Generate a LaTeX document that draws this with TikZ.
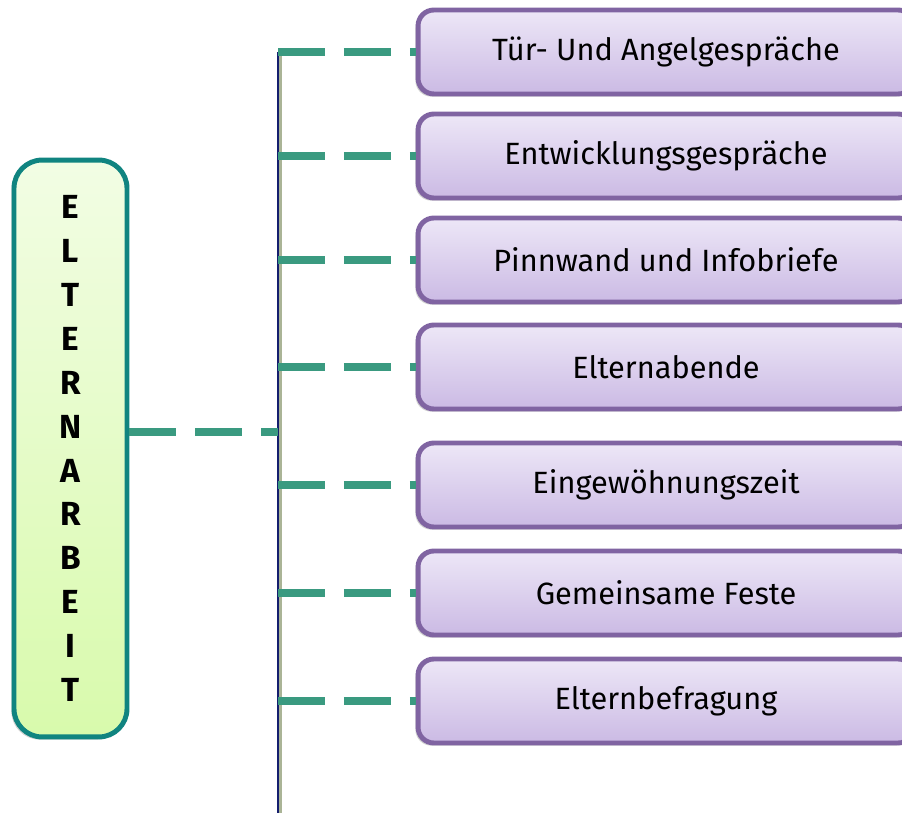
\documentclass[tikz,border=0pt]{standalone}
\usepackage{fontspec}
\setmainfont{Fira Sans}
\usetikzlibrary{shadows}

\definecolor{eltborder}{RGB}{16,132,128}
\definecolor{elttop}{RGB}{242,253,228}
\definecolor{eltbottom}{RGB}{216,250,172}
\definecolor{boxborder}{RGB}{128,100,162}
\definecolor{boxtop}{RGB}{237,231,247}
\definecolor{boxbottom}{RGB}{203,186,228}
\definecolor{linkgreen}{RGB}{58,154,128}
\definecolor{trunkblue}{RGB}{20,30,110}
\definecolor{trunkshade}{RGB}{170,180,150}

\tikzset{
	mainbox/.style={shape=rectangle, rounded corners=16pt, draw=eltborder, line width=2.8pt,
		top color=elttop, bottom color=eltbottom,
		drop shadow={shadow xshift=-1.5pt, shadow yshift=-1.5pt, fill=gray!70},
		minimum width=2.26cm, minimum height=11.54cm, align=center,
		font=\fontsize{19}{25}\selectfont\bfseries},
	topicbox/.style={shape=rectangle, rounded corners=9pt, draw=boxborder, line width=2.8pt,
		top color=boxtop, bottom color=boxbottom,
		drop shadow={shadow xshift=-1.5pt, shadow yshift=-1.5pt, fill=gray!70},
		minimum width=9.92cm, minimum height=1.68cm,
		font=\fontsize{17.5}{20}\selectfont},
	link/.style={draw=linkgreen, line width=4pt, dash pattern=on 0.94cm off 0.38cm},
}

\begin{document}
\begin{tikzpicture}[x=0.02cm, y=-0.02cm]
		\useasboundingbox (0,0) rectangle (902,813);
		% Elternarbeit box
		\node[mainbox] (ELT) at (70.5,448.5) {E\\L\\T\\E\\R\\N\\A\\R\\B\\E\\I\\T};
		% topic boxes
		\node[topicbox] (T1) at (666,52) {Tür- Und Angelgespräche};
		\node[topicbox] (T2) at (666,156) {Entwicklungsgespräche};
		\node[topicbox] (T3) at (666,260) {Pinnwand und Infobriefe};
		\node[topicbox] (T4) at (666,367) {Elternabende};
		\node[topicbox] (T5) at (666,485) {Eingewöhnungszeit};
		\node[topicbox] (T6) at (666,593) {Gemeinsame Feste};
		\node[topicbox] (T7) at (666,701) {Elternbefragung};
		% trunk
		\coordinate (TOP) at (278,52);
		\coordinate (BOT) at (278,815);
		\coordinate (HUB) at (278,432);
		\draw[trunkshade, line width=1.8pt] ([xshift=1.6pt]TOP) -- ([xshift=1.6pt]BOT);
		\draw[trunkblue, line width=1.3pt] (TOP) -- (BOT);
		% connections
		\draw[link] (HUB -| ELT.east) -- (HUB);
		\foreach \t in {T1,T2,T3,T4,T5,T6,T7}
			\draw[link] (TOP |- \t.west) -- (\t.west);
	\end{tikzpicture}
\end{document}
